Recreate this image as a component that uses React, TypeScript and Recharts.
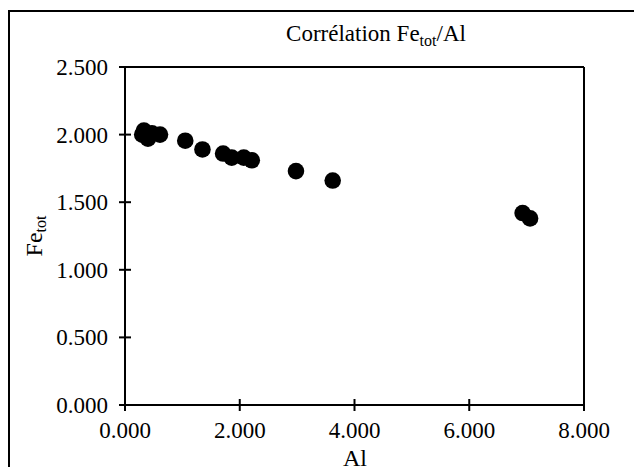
import React from "react";
import { ScatterChart, Scatter, XAxis, YAxis, ReferenceLine } from "recharts";

const alValues = [0.3, 0.33, 0.4, 0.47, 0.61, 1.05, 1.35, 1.71, 1.86, 2.07, 2.21, 2.98, 3.62, 6.93, 7.06];
const feValues = [2.0, 2.03, 1.97, 2.01, 2.0, 1.955, 1.89, 1.86, 1.83, 1.83, 1.81, 1.73, 1.66, 1.42, 1.38];
const xTicks = [0, 2, 4, 6, 8];
const yTicks = [0, 0.5, 1, 1.5, 2, 2.5];

const data = alValues.map((al, i) => ({ al, fe: feValues[i] }));

const FONT = '"Liberation Serif", "Times New Roman", serif';
const textStyle = { fontFamily: FONT };
const fmt = (v: number) => v.toFixed(3);

const XTick = (props: any) => {
  const { x, y, payload } = props;
  return (
    <g>
      <line x1={x} x2={x} y1={y - 6} y2={y + 6} stroke="#000" strokeWidth={2} />
      <text x={x} y={y + 33} textAnchor="middle" style={textStyle} fontFamily={FONT} fontSize={23} fill="#000">
        {fmt(payload.value)}
      </text>
    </g>
  );
};

const YTick = (props: any) => {
  const { x, y, payload } = props;
  return (
    <g>
      <line x1={x - 6} x2={x + 6} y1={y} y2={y} stroke="#000" strokeWidth={2} />
      <text x={x - 17} y={y + 8} textAnchor="end" style={textStyle} fontFamily={FONT} fontSize={23} fill="#000">
        {fmt(payload.value)}
      </text>
    </g>
  );
};

const Dot = (props: any) => <circle cx={props.cx} cy={props.cy} r={8.3} fill="#000" />;

export default function App() {
  return (
    <div
      style={{
        margin: -8,
        width: 642,
        height: 475,
        position: "relative",
        overflow: "hidden",
        background: "#fff",
        fontFamily: FONT,
      }}
    >
      <div
        style={{
          position: "absolute",
          left: 8,
          top: 10,
          width: 700,
          height: 500,
          borderLeft: "2.5px solid #000",
          borderTop: "2.5px solid #000",
        }}
      />
      <div style={{ position: "absolute", left: 0, top: 0 }}>
        <ScatterChart width={642} height={475} margin={{ top: 67, right: 58, bottom: 0, left: 25 }} style={textStyle}>
          <XAxis
            type="number"
            dataKey="al"
            domain={[0, 8]}
            ticks={xTicks}
            height={70}
            tickSize={0}
            tickMargin={0}
            tickLine={false}
            axisLine={{ stroke: "#000", strokeWidth: 2 }}
            tick={XTick}
            interval={0}
          />
          <YAxis
            type="number"
            dataKey="fe"
            domain={[0, 2.5]}
            ticks={yTicks}
            width={100}
            tickSize={0}
            tickMargin={0}
            tickLine={false}
            axisLine={{ stroke: "#000", strokeWidth: 2 }}
            tick={YTick}
            interval={0}
          />
          <ReferenceLine y={2.5} stroke="#000" strokeWidth={2} ifOverflow="visible" />
          <ReferenceLine x={8} stroke="#000" strokeWidth={2} ifOverflow="visible" />
          <Scatter data={data} fill="#000" shape={Dot} isAnimationActive={false} />
          <text x={376} y={41} textAnchor="middle" style={textStyle} fontSize={23} fill="#000">
            Corrélation Fe
            <tspan fontSize={16} dy={5}>tot</tspan>
            <tspan dy={-5}>/Al</tspan>
          </text>
          <text
            x={42}
            y={236}
            transform="rotate(-90 42 236)"
            textAnchor="middle"
            style={textStyle}
            fontSize={24}
            fill="#000"
          >
            Fe
            <tspan fontSize={16} dy={4}>tot</tspan>
          </text>
          <text x={355} y={466} textAnchor="middle" style={textStyle} fontSize={24} fill="#000">
            Al
          </text>
        </ScatterChart>
      </div>
    </div>
  );
}
